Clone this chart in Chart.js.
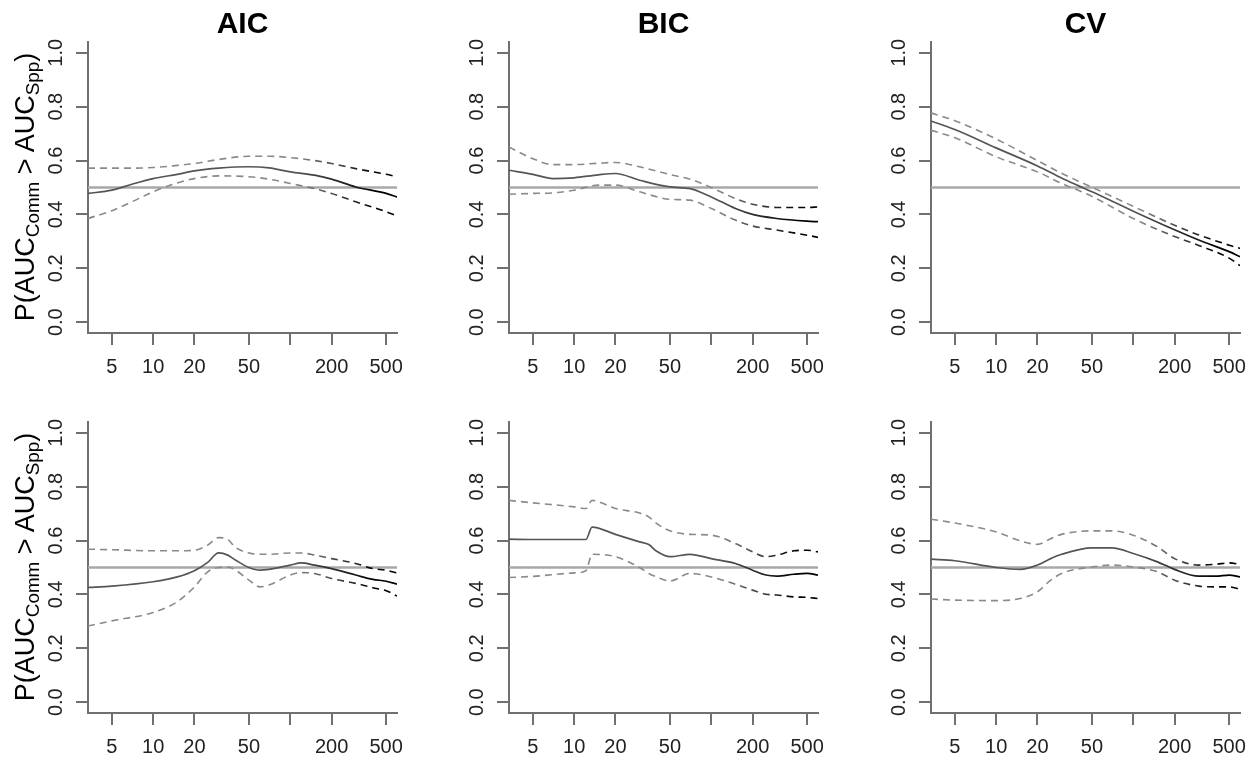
<!DOCTYPE html>
<html>
<head>
<meta charset="utf-8">
<script src="https://cdn.jsdelivr.net/npm/chart.js@4.4.1/dist/chart.umd.min.js"></script>
<style>
  html, body { margin: 0; padding: 0; background: #fff; }
  #wrap { position: relative; width: 1256px; height: 759px; overflow: hidden; font-family: "Liberation Sans", Arial, sans-serif; }
  #wrap canvas { position: absolute; }
  .ytitle { position: absolute; font-size: 27px; line-height: 1; color: #000; white-space: nowrap;
            transform: translate(-50%, -50%) rotate(-90deg); }
  .ytitle sub { font-size: 70%; vertical-align: -0.28em; line-height: 0; }
</style>
</head>
<body>
<div id="wrap">
  <canvas id="c1" width="420" height="380" style="left:0;top:0"></canvas>
  <canvas id="c2" width="420" height="380" style="left:421px;top:0"></canvas>
  <canvas id="c3" width="420" height="380" style="left:843px;top:0"></canvas>
  <canvas id="c4" width="420" height="380" style="left:0;top:380px"></canvas>
  <canvas id="c5" width="420" height="380" style="left:421px;top:380px"></canvas>
  <canvas id="c6" width="420" height="380" style="left:843px;top:380px"></canvas>
  <div class="ytitle" style="left:25px;top:187px">P(AUC<sub>Comm</sub> &gt; AUC<sub>Spp</sub>)</div>
  <div class="ytitle" style="left:25px;top:567px">P(AUC<sub>Comm</sub> &gt; AUC<sub>Spp</sub>)</div>
</div>
<script>
// --- data ---
const xMin = 3.35, xMax = 600;
const refLevel = 0.5;
const xTickVals = [5, 10, 20, 50, 100, 200, 500];
const xTickLabels = ['5', '10', '20', '50', '', '200', '500'];
const yTickVals = [0, 0.2, 0.4, 0.6, 0.8, 1.0];

// top row
const xAicTop = [3.35, 5, 7, 10, 15, 20, 30, 50, 70, 100, 150, 200, 300, 500, 600];
const midAicTop = [0.478, 0.490, 0.512, 0.533, 0.549, 0.562, 0.572, 0.577, 0.573, 0.558, 0.546, 0.531, 0.502, 0.478, 0.465];
const upAicTop  = [0.572, 0.572, 0.572, 0.574, 0.582, 0.589, 0.604, 0.616, 0.616, 0.611, 0.600, 0.589, 0.570, 0.549, 0.540];
const loAicTop  = [0.385, 0.414, 0.447, 0.484, 0.517, 0.533, 0.543, 0.540, 0.531, 0.515, 0.496, 0.478, 0.447, 0.410, 0.394];

const xBicTop = [3.35, 5, 7, 10, 15, 20, 30, 50, 70, 100, 150, 200, 300, 500, 600];
const midBicTop = [0.564, 0.549, 0.533, 0.536, 0.547, 0.552, 0.527, 0.502, 0.496, 0.465, 0.422, 0.400, 0.385, 0.375, 0.373];
const upBicTop  = [0.650, 0.607, 0.585, 0.585, 0.590, 0.593, 0.577, 0.548, 0.531, 0.500, 0.459, 0.438, 0.426, 0.426, 0.428];
const loBicTop  = [0.475, 0.478, 0.480, 0.490, 0.509, 0.509, 0.484, 0.456, 0.453, 0.422, 0.379, 0.357, 0.342, 0.323, 0.315];

const xCvTop = [3.35, 5, 10, 20, 30, 40, 50, 100, 200, 300, 500, 600];
const midCvTop = [0.747, 0.715, 0.647, 0.580, 0.535, 0.506, 0.484, 0.412, 0.343, 0.305, 0.262, 0.243];
const upCvTop  = [0.777, 0.748, 0.680, 0.600, 0.553, 0.523, 0.501, 0.430, 0.360, 0.324, 0.286, 0.274];
const loCvTop  = [0.712, 0.685, 0.614, 0.558, 0.515, 0.489, 0.467, 0.385, 0.318, 0.285, 0.238, 0.210];

// bottom row
const xAicBot = [3.35, 5, 10, 15, 20, 25, 30, 35, 40, 50, 60, 70, 100, 120, 150, 200, 300, 400, 500, 600];
const midAicBot = [0.426, 0.431, 0.447, 0.465, 0.488, 0.519, 0.554, 0.546, 0.527, 0.500, 0.490, 0.493, 0.509, 0.517, 0.509, 0.496, 0.472, 0.456, 0.449, 0.438];
const upAicBot  = [0.568, 0.566, 0.562, 0.562, 0.564, 0.583, 0.611, 0.604, 0.574, 0.554, 0.549, 0.549, 0.554, 0.554, 0.546, 0.533, 0.515, 0.496, 0.490, 0.480];
const loAicBot  = [0.283, 0.302, 0.333, 0.373, 0.428, 0.484, 0.500, 0.502, 0.490, 0.453, 0.428, 0.435, 0.472, 0.481, 0.478, 0.459, 0.441, 0.425, 0.414, 0.394];

const xBicBot = [3.35, 5, 10, 12.2, 13.5, 20, 30, 35, 40, 50, 70, 100, 150, 200, 250, 300, 400, 500, 600];
const midBicBot = [0.605, 0.604, 0.604, 0.604, 0.650, 0.623, 0.595, 0.585, 0.560, 0.540, 0.549, 0.533, 0.515, 0.490, 0.472, 0.468, 0.475, 0.478, 0.472];
const upBicBot  = [0.749, 0.740, 0.725, 0.719, 0.749, 0.719, 0.702, 0.688, 0.663, 0.636, 0.623, 0.620, 0.589, 0.558, 0.540, 0.546, 0.562, 0.564, 0.558];
const loBicBot  = [0.463, 0.467, 0.480, 0.488, 0.549, 0.540, 0.500, 0.478, 0.465, 0.450, 0.478, 0.465, 0.438, 0.416, 0.401, 0.398, 0.391, 0.389, 0.385];

const xCvBot = [3.35, 5, 10, 15, 20, 25, 30, 50, 70, 100, 150, 200, 300, 400, 500, 600];
const midCvBot = [0.531, 0.525, 0.500, 0.493, 0.509, 0.533, 0.549, 0.573, 0.573, 0.552, 0.521, 0.493, 0.468, 0.468, 0.472, 0.465];
const upCvBot  = [0.679, 0.665, 0.632, 0.599, 0.586, 0.607, 0.623, 0.636, 0.636, 0.620, 0.577, 0.533, 0.509, 0.512, 0.517, 0.512];
const loCvBot  = [0.383, 0.379, 0.377, 0.385, 0.410, 0.453, 0.478, 0.502, 0.509, 0.502, 0.484, 0.453, 0.431, 0.428, 0.428, 0.419];

// --- styling ---
const FONT = '"Liberation Sans", Arial, sans-serif';
const axisColor = '#707070';
const fadeFrom = 110, fadeTo = 420;   // lines darken towards large n

function toPoints(xs, ys) {
    return xs.map((x, i) => ({ x: x, y: ys[i] }));
}

// grey -> black gradient along the x axis
function fade(base) {
    return function (ctx) {
        const chart = ctx.chart;
        if (!chart.chartArea || !chart.scales.x) return base;
        const sx = chart.scales.x;
        const g = chart.ctx.createLinearGradient(sx.getPixelForValue(fadeFrom), 0, sx.getPixelForValue(fadeTo), 0);
        g.addColorStop(0, base);
        g.addColorStop(1, '#000000');
        return g;
    };
}

function makePanel(id, title, xs, mid, up, lo) {
    const line = { pointRadius: 0, fill: false, cubicInterpolationMode: 'monotone' };
    new Chart(document.getElementById(id), {
        type: 'line',
        data: {
            datasets: [
                Object.assign({ data: toPoints(xs, mid), borderColor: fade('#555555'), borderWidth: 1.7 }, line),
                Object.assign({ data: toPoints(xs, up), borderColor: fade('#8a8a8a'), borderWidth: 1.6, borderDash: [7, 5] }, line),
                Object.assign({ data: toPoints(xs, lo), borderColor: fade('#8a8a8a'), borderWidth: 1.6, borderDash: [7, 5] }, line),
                Object.assign({ data: [{ x: xMin, y: refLevel }, { x: xMax, y: refLevel }], borderColor: '#a8a8a8', borderWidth: 2.5 }, line)
            ]
        },
        options: {
            responsive: false,
            animation: false,
            events: [],
            layout: { padding: { left: 0, right: 23, top: title ? 0 : 42, bottom: 0 } },
            plugins: {
                legend: { display: false },
                tooltip: { enabled: false },
                title: {
                    display: !!title,
                    text: title,
                    fullSize: false,
                    color: '#000',
                    font: { family: FONT, size: 30, weight: 'bold', lineHeight: 1 },
                    padding: { top: 10, bottom: 2 }
                }
            },
            scales: {
                x: {
                    type: 'logarithmic',
                    min: xMin,
                    max: xMax,
                    afterFit: function (s) { s.height = 47; },
                    afterBuildTicks: function (s) { s.ticks = xTickVals.map(v => ({ value: v })); },
                    ticks: {
                        autoSkip: false,
                        maxRotation: 0,
                        padding: 10,
                        color: '#222',
                        font: { family: FONT, size: 20 },
                        callback: function (v, i) { return xTickLabels[i]; }
                    },
                    grid: { drawOnChartArea: false, tickLength: 12, color: axisColor, lineWidth: 2 },
                    border: { color: axisColor, width: 2 }
                },
                y: {
                    min: -0.04,
                    max: 1.04,
                    afterFit: function (s) { s.width = 88; },
                    afterBuildTicks: function (s) { s.ticks = yTickVals.map(v => ({ value: v })); },
                    ticks: {
                        minRotation: 90,
                        maxRotation: 90,
                        crossAlign: 'center',
                        padding: 6,
                        color: '#222',
                        font: { family: FONT, size: 20 },
                        callback: function (v) { return v.toFixed(1); }
                    },
                    grid: { drawOnChartArea: false, tickLength: 12, color: axisColor, lineWidth: 2 },
                    border: { color: axisColor, width: 2 }
                }
            }
        }
    });
}

makePanel('c1', 'AIC', xAicTop, midAicTop, upAicTop, loAicTop);
makePanel('c2', 'BIC', xBicTop, midBicTop, upBicTop, loBicTop);
makePanel('c3', 'CV', xCvTop, midCvTop, upCvTop, loCvTop);
makePanel('c4', '', xAicBot, midAicBot, upAicBot, loAicBot);
makePanel('c5', '', xBicBot, midBicBot, upBicBot, loBicBot);
makePanel('c6', '', xCvBot, midCvBot, upCvBot, loCvBot);
</script>
</body>
</html>
